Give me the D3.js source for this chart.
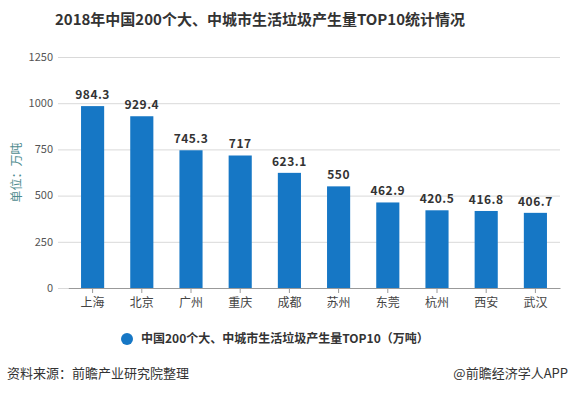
<!DOCTYPE html>
<html>
<head>
<meta charset="utf-8">
<script src="https://cdn.jsdelivr.net/npm/d3@7"></script>
<style>
  body { margin: 0; background: #fff; }
  text { font-family: "Noto Sans CJK SC", "Noto Sans", sans-serif; }
</style>
</head>
<body>
<div id="chart"></div>
<script>
const cities = ["上海", "北京", "广州", "重庆", "成都", "苏州", "东莞", "杭州", "西安", "武汉"];
const amounts = [984.3, 929.4, 745.3, 717, 623.1, 550, 462.9, 420.5, 416.8, 406.7];
const yTicks = [0, 250, 500, 750, 1000, 1250];

const width = 572, height = 393;
const margin = {top: 57, right: 12, bottom: 105, left: 68};
const barColor = "#1677c5";

const svg = d3.select("#chart").append("svg")
    .attr("width", width)
    .attr("height", height);

const x = d3.scaleBand()
    .domain(cities)
    .range([margin.left, width - margin.right])
    .paddingInner(0.53)
    .paddingOuter(0.265);

const y = d3.scaleLinear()
    .domain([0, 1250])
    .range([height - margin.bottom, margin.top]);

// title
svg.append("text")
    .attr("x", 260)
    .attr("y", 25)
    .attr("text-anchor", "middle")
    .attr("font-size", 15)
    .attr("font-weight", "bold")
    .attr("fill", "#333")
    .text("2018年中国200个大、中城市生活垃圾产生量TOP10统计情况");

// grid lines + y labels
const grid = svg.append("g");
grid.selectAll("line")
    .data(yTicks.filter(d => d > 0))
    .enter().append("line")
      .attr("x1", margin.left - 10)
      .attr("x2", width - margin.right)
      .attr("y1", d => y(d) + 0.5)
      .attr("y2", d => y(d) + 0.5)
      .attr("stroke", "#d9d9d9");

svg.append("line")
    .attr("x1", margin.left - 10)
    .attr("x2", margin.left)
    .attr("y1", y(0) + 0.5)
    .attr("y2", y(0) + 0.5)
    .attr("stroke", "#d9d9d9");

grid.selectAll("text")
    .data(yTicks)
    .enter().append("text")
      .attr("x", 53)
      .attr("y", d => y(d))
      .attr("dy", "0.35em")
      .attr("text-anchor", "end")
      .attr("font-size", 11)
      .attr("fill", "#555")
      .text(d => d);

svg.append("text")
    .attr("transform", "translate(21," + y(625) + ") rotate(-90)")
    .attr("text-anchor", "middle")
    .attr("font-size", 12)
    .attr("fill", "#4f8c8f")
    .text("单位：万吨");

// bars
svg.append("g").selectAll("rect")
    .data(amounts)
    .enter().append("rect")
      .attr("x", (d, i) => x(cities[i]))
      .attr("y", d => y(d))
      .attr("width", x.bandwidth())
      .attr("height", d => y(0) - y(d))
      .attr("fill", barColor);

svg.append("g").selectAll("text")
    .data(amounts)
    .enter().append("text")
      .attr("x", (d, i) => x(cities[i]) + x.bandwidth() / 2)
      .attr("y", d => y(d) - 7)
      .attr("text-anchor", "middle")
      .attr("font-size", 12)
      .attr("font-weight", "bold")
      .attr("fill", "#333")
      .attr("letter-spacing", 0.5)
      .text(d => d);

// x axis
const xAxis = svg.append("g")
    .attr("transform", "translate(0," + y(0) + ")")
    .call(d3.axisBottom(x).tickSize(5).tickSizeOuter(0));
xAxis.select(".domain").attr("stroke", "#999");
xAxis.selectAll(".tick line").attr("stroke", "#999");
xAxis.selectAll(".tick text")
    .attr("font-size", 12)
    .attr("fill", "#444")
    .attr("dy", "0.9em")
    .style("font-family", "'Noto Sans CJK SC', sans-serif");

// legend
svg.append("circle")
    .attr("cx", 127)
    .attr("cy", 339)
    .attr("r", 6)
    .attr("fill", barColor);
svg.append("text")
    .attr("x", 141)
    .attr("y", 339)
    .attr("dy", "0.35em")
    .attr("font-size", 12)
    .attr("font-weight", "bold")
    .attr("fill", "#333")
    .text("中国200个大、中城市生活垃圾产生量TOP10（万吨）");

// footer
svg.append("text")
    .attr("x", 7)
    .attr("y", 378)
    .attr("font-size", 13)
    .attr("fill", "#333")
    .text("资料来源：前瞻产业研究院整理");
svg.append("text")
    .attr("x", 568)
    .attr("y", 378)
    .attr("text-anchor", "end")
    .attr("font-size", 13)
    .attr("fill", "#333")
    .text("@前瞻经济学人APP");
</script>
</body>
</html>
